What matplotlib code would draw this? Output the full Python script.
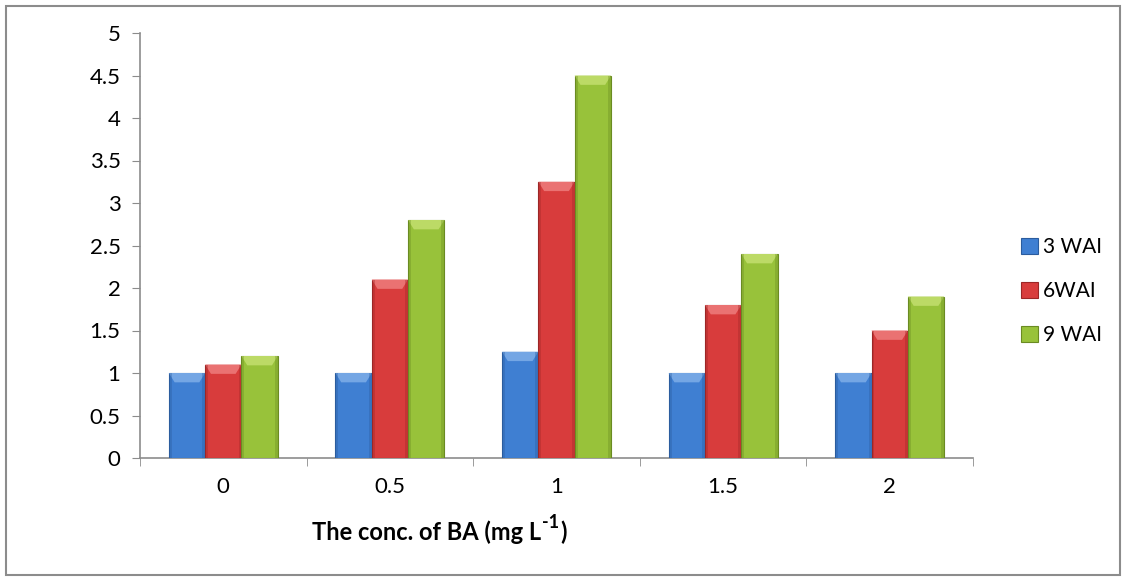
import numpy as np
import matplotlib
matplotlib.use("Agg")
import matplotlib.pyplot as plt
from matplotlib.patches import Rectangle, Polygon

# BA concentrations and values per week after inoculation
conc_labels = ["0", "0.5", "1", "1.5", "2"]
wai_3 = [1.0, 1.0, 1.25, 1.0, 1.0]
wai_6 = [1.1, 2.1, 3.25, 1.8, 1.5]
wai_9 = [1.2, 2.8, 4.5, 2.4, 1.9]
series_names = ["3 WAI", "6WAI", "9 WAI"]

face_cols = ["#3f7fd2", "#d83c3c", "#98c23a"]
edge_cols = ["#2b5c9e", "#9c2626", "#6a8b22"]
top_cols = ["#74a6e4", "#ea7272", "#bcda66"]

plt.rcParams["font.family"] = ["Lato", "DejaVu Sans"]

fig = plt.figure(figsize=(11.28, 5.81), dpi=100)
ax = fig.add_axes([140/1128, 1 - 458/581, 833/1128, 425/581])

# outer chart border
fig.patches.append(Rectangle((6/1128, 6/581), 1114/1128, 569/581, transform=fig.transFigure,
                             fill=False, edgecolor="#8c8c8c", linewidth=1.5))

x = np.arange(len(conc_labels))
w = 0.218
handles = []
for i, vals in enumerate([wai_3, wai_6, wai_9]):
    bars = ax.bar(x + (i - 1) * w, vals, width=w, color=face_cols[i],
                  edgecolor=edge_cols[i], linewidth=0.8, zorder=3, label=series_names[i])
    handles.append(bars)
    # bevelled top highlight and darker side strips
    for b in bars:
        bx, bw, bh = b.get_x(), b.get_width(), b.get_height()
        cap = 0.11
        inset = bw * 0.16
        ax.add_patch(Polygon([(bx, bh), (bx + bw, bh), (bx + bw - inset, bh - cap),
                              (bx + inset, bh - cap)], closed=True,
                             facecolor=top_cols[i], edgecolor="none", zorder=4))
        ax.add_patch(Rectangle((bx, 0), bw * 0.08, bh, facecolor=edge_cols[i],
                               alpha=0.35, edgecolor="none", zorder=4))
        ax.add_patch(Rectangle((bx + bw * 0.92, 0), bw * 0.08, bh, facecolor=edge_cols[i],
                               alpha=0.35, edgecolor="none", zorder=4))

ax.set_xlim(-0.5, len(conc_labels) - 0.5)
ax.set_ylim(0, 5)
ax.set_yticks(np.arange(0, 5.01, 0.5))
ax.set_yticklabels(["0", "0.5", "1", "1.5", "2", "2.5", "3", "3.5", "4", "4.5", "5"])
ax.set_xticks(x)
ax.set_xticklabels(conc_labels)
ax.set_xticks(np.arange(-0.5, len(conc_labels), 1.0), minor=True)

for s in ["top", "right"]:
    ax.spines[s].set_visible(False)
for s in ["left", "bottom"]:
    ax.spines[s].set_color("#8c8c8c")
    ax.spines[s].set_linewidth(1.2)

ax.tick_params(axis="y", length=6, color="#8c8c8c", labelsize=16, pad=8)
ax.tick_params(axis="x", which="major", length=0, labelsize=16, pad=14)
ax.tick_params(axis="x", which="minor", length=6, color="#8c8c8c")

# axis title with a hyphen superscript, built from three pieces
fig.canvas.draw()
rend = fig.canvas.get_renderer()
y_lab = 1 - 532/581
t1 = fig.text(312/1128, y_lab, "The conc. of BA (mg L", ha="left", va="center",
              fontsize=17, fontweight="bold")
e1 = t1.get_window_extent(rend)
t2 = fig.text(e1.x1 / 1128 + 0.001, y_lab + 9/581, "-1", ha="left", va="center",
              fontsize=13, fontweight="bold")
e2 = t2.get_window_extent(rend)
fig.text(e2.x1 / 1128 + 0.001, y_lab, ")", ha="left", va="center",
         fontsize=17, fontweight="bold")

ax.legend(handles=handles, loc="center left", bbox_to_anchor=(1011/1128, 1 - 291/581),
          bbox_transform=fig.transFigure, frameon=False, fontsize=15, borderpad=0,
          handlelength=0.8, handleheight=0.8, handletextpad=0.25, labelspacing=1.15)

fig.savefig("out.png", dpi=100)
